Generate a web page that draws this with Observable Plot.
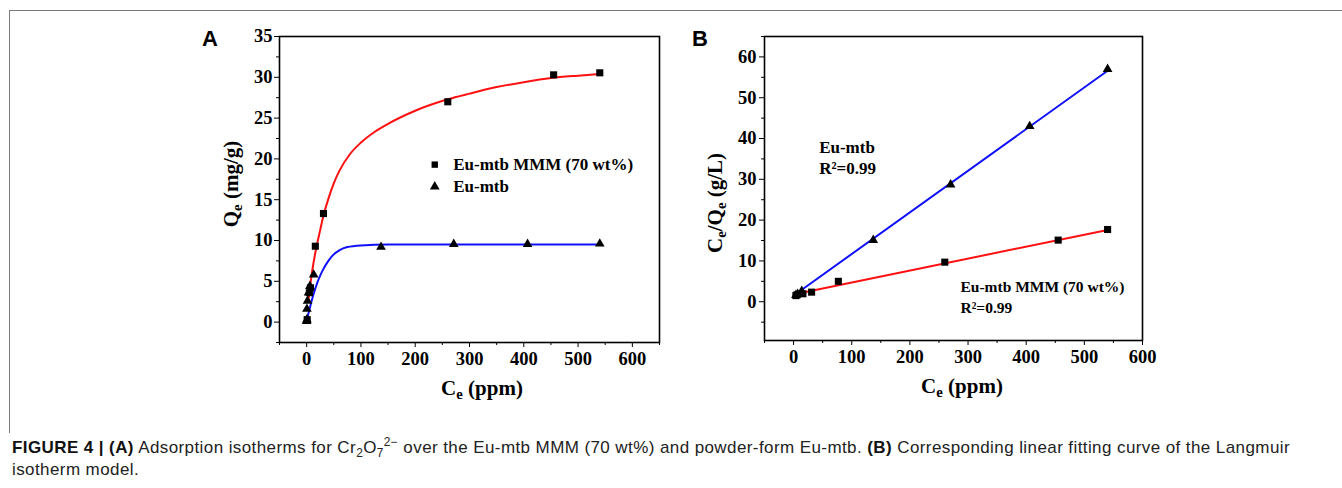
<!DOCTYPE html>
<html><head><meta charset="utf-8">
<script src="https://cdn.jsdelivr.net/npm/d3@7"></script>
<script src="https://cdn.jsdelivr.net/npm/@observablehq/plot@0.6"></script>
<style>
html,body{margin:0;padding:0;background:#fff;}
#fig{position:relative;width:1342px;height:488px;overflow:hidden;background:#fff;}
#border{position:absolute;left:9px;top:10px;width:1340px;height:422px;border-left:1px solid #7a7a7a;border-top:1px solid #7a7a7a;}
#panelA{position:absolute;left:200px;top:0;}
#panelB{position:absolute;left:690px;top:0;}
#caption{position:absolute;left:12px;top:437px;white-space:nowrap;font-family:"Liberation Sans",Arial,sans-serif;font-size:17px;line-height:22px;color:#222;}
#caption b{color:#111;}
#caption sub,#caption sup{font-size:0.7em;line-height:0;}
#line1{display:inline-block;}
</style>
</head><body>
<div id="fig">
  <div id="border"></div>
  <div id="panelA"></div>
  <div id="panelB"></div>
  <div id="caption"><span id="line1"><b>FIGURE 4 | (A)</b> Adsorption isotherms for Cr<sub>2</sub>O<sub>7</sub><sup>2−</sup> over the Eu-mtb MMM (70 wt%) and powder-form Eu-mtb. <b>(B)</b> Corresponding linear fitting curve of the Langmuir</span><br>isotherm model.</div>
</div>
<script>
// ---------- Data ----------
const seriesNames = ["Eu-mtb MMM (70 wt%)", "Eu-mtb"];

// Panel A: adsorption isotherms
const mmmCeA = [1, 5, 7, 16, 31, 260, 455, 540];
const mmmQeA = [0.3, 3.6, 4.2, 9.3, 13.3, 27.0, 30.3, 30.55];
const powderCeA = [0, 0.5, 0.5, 1.7, 3.5, 6, 13, 137, 271, 407, 540];
const powderQeA = [0.1, 0.3, 1.6, 2.6, 3.6, 4.4, 5.8, 9.2, 9.55, 9.55, 9.6];
// fitted curves
const mmmFitCeA = [4, 8, 12, 16, 20, 25, 30, 40, 50, 60, 80, 100, 125, 150, 200, 260, 300, 350, 400, 450, 500, 540];
const mmmFitQeA = [3.0, 5.2, 7.0, 8.5, 9.8, 11.3, 12.8, 15.1, 17.0, 18.5, 20.6, 22.0, 23.3, 24.3, 25.9, 27.3, 28.0, 28.8, 29.4, 29.9, 30.2, 30.4];
const powderFitCeA = [0, 5, 10, 15, 20, 25, 30, 40, 50, 60, 75, 100, 150, 200, 300, 400, 540];
const powderFitQeA = [0.2, 1.5, 2.8, 3.9, 4.9, 5.7, 6.4, 7.5, 8.3, 8.8, 9.2, 9.4, 9.5, 9.5, 9.5, 9.5, 9.5];

// Panel B: linear Langmuir fits
const mmmCeB = [4, 6, 16, 31, 77, 260, 455, 540];
const mmmRatioB = [1.5, 1.7, 1.95, 2.35, 5.0, 9.7, 15.1, 17.7];
const powderCeB = [4, 7, 14, 137, 270, 406, 540];
const powderRatioB = [1.6, 1.9, 2.6, 15.1, 28.7, 43.0, 57.0];
const mmmFitCeB = [4, 540];
const mmmFitB = [1.9, 17.6];
const powderFitCeB = [4, 540];
const powderFitB = [1.9, 56.6];
const r2Label = "R²=0.99";

// ticks
const xMajor = [0, 100, 200, 300, 400, 500, 600];
const xMinorA = [-50, 50, 150, 250, 350, 450, 550, 650];
const xMinorB = [-50, 50, 150, 250, 350, 450, 550];
const yMajorA = [0, 5, 10, 15, 20, 25, 30, 35];
const yMinorA = [-2.5, 2.5, 7.5, 12.5, 17.5, 22.5, 27.5, 32.5];
const yMajorB = [0, 10, 20, 30, 40, 50, 60];
const yMinorB = [-5, 5, 15, 25, 35, 45, 55, 65];

// ---------- helpers ----------
const SERIF = "'Liberation Serif','Times New Roman',serif";
const zip = (xs, ys) => xs.map((x, i) => ({x, y: ys[i]}));
const RED = "#ff1010", BLUE = "#1010ff";
const TICK_FONT = 18.5;

function axes(xMinor, yMajor, yMinor, yPad) {
  return [
    Plot.axisX(xMinor, {tickSize: 3, tickFormat: () => "", label: null}),
    Plot.axisX(xMajor, {tickSize: 5, tickPadding: 4, label: null, tickFormat: d => String(d), fontSize: TICK_FONT, fontWeight: "bold", fontFamily: SERIF}),
    Plot.axisY(yMinor, {tickSize: 3, tickFormat: () => "", label: null}),
    Plot.axisY(yMajor, {tickSize: 5, tickPadding: yPad, label: null, tickFormat: d => String(d), fontSize: TICK_FONT, fontWeight: "bold", fontFamily: SERIF}),
    Plot.frame({stroke: "black", strokeWidth: 1.6})
  ];
}

function addLabel(svg, x, y, parts, rotate, size) {
  const t = d3.select(svg).append("text")
    .attr("transform", `translate(${x},${y})` + (rotate ? " rotate(-90)" : ""))
    .attr("text-anchor", "middle").attr("fill", "black")
    .style("font-family", SERIF).style("font-weight", "bold").style("font-size", size + "px");
  let shifted = false;
  parts.forEach(([s, sub]) => {
    const ts = t.append("tspan").text(s);
    if (sub && !shifted) { ts.attr("dy", 4).style("font-size", (size * 0.7) + "px"); shifted = true; }
    else if (!sub && shifted) { ts.attr("dy", -4); shifted = false; }
  });
}
function addLetter(svg, letter) {
  d3.select(svg).append("text").attr("x", 10).attr("y", 46).attr("fill", "black")
    .style("font-family", "'Liberation Sans',Arial,sans-serif").style("font-weight", "bold")
    .style("font-size", "22px").text(letter);
}

const style = {fontFamily: SERIF, fontWeight: "bold", fontSize: "17px", color: "black", background: "transparent", overflow: "visible"};

// ---------- Panel A ----------
const plotA = Plot.plot({
  width: 480, height: 410,
  marginLeft: 79, marginRight: 21, marginTop: 36, marginBottom: 68,
  x: {domain: [-50, 650]}, y: {domain: [-2.5, 35]},
  style,
  marks: [
    ...axes(xMinorA, yMajorA, yMinorA, 2),
    Plot.line(zip(mmmFitCeA, mmmFitQeA), {x: "x", y: "y", stroke: RED, strokeWidth: 2, curve: "monotone-x"}),
    Plot.line(zip(powderFitCeA, powderFitQeA), {x: "x", y: "y", stroke: BLUE, strokeWidth: 2, curve: "monotone-x"}),
    Plot.dot(zip(mmmCeA, mmmQeA), {x: "x", y: "y", symbol: "square", fill: "black", r: 4}),
    Plot.dot(zip(powderCeA, powderQeA), {x: "x", y: "y", symbol: "triangle", fill: "black", r: 3.6}),
    // legend
    Plot.dot(seriesNames, {x: () => 236, y: (d, i) => [19.3, 16.6][i], symbol: (d, i) => ["square", "triangle"][i], fill: "black", r: 3.6}),
    Plot.text(seriesNames, {x: () => 270, y: (d, i) => [19.3, 16.6][i], text: d => d, textAnchor: "start", fontSize: 17, fill: "black"})
  ]
});
addLabel(plotA, 282, 395, [["C"], ["e", true], [" (ppm)"]], false, 21);
addLabel(plotA, 38, 184, [["Q"], ["e", true], [" (mg/g)"]], true, 21);
addLetter(plotA, "A");
document.getElementById("panelA").appendChild(plotA);

// ---------- Panel B ----------
const plotB = Plot.plot({
  width: 480, height: 410,
  marginLeft: 74, marginRight: 28, marginTop: 36, marginBottom: 70,
  x: {domain: [-50, 600]}, y: {domain: [-9.5, 65]},
  style,
  marks: [
    ...axes(xMinorB, yMajorB, yMinorB, 3),
    Plot.line(zip(powderFitCeB, powderFitB), {x: "x", y: "y", stroke: BLUE, strokeWidth: 2}),
    Plot.line(zip(mmmFitCeB, mmmFitB), {x: "x", y: "y", stroke: RED, strokeWidth: 2}),
    Plot.dot(zip(mmmCeB, mmmRatioB), {x: "x", y: "y", symbol: "square", fill: "black", r: 4}),
    Plot.dot(zip(powderCeB, powderRatioB), {x: "x", y: "y", symbol: "triangle", fill: "black", r: 3.6}),
    Plot.text([seriesNames[1], r2Label], {x: () => 44, y: (d, i) => [36.5, 31.3][i], text: d => d, textAnchor: "start", lineAnchor: "bottom", fontSize: 17, fill: "black"}),
    Plot.text([seriesNames[0], r2Label], {x: () => 287, y: (d, i) => [2.5, -2.8][i], text: d => d, textAnchor: "start", lineAnchor: "bottom", fontSize: 15.5, fill: "black"})
  ]
});
addLabel(plotB, 272, 393, [["C"], ["e", true], [" (ppm)"]], false, 21);
addLabel(plotB, 32, 203, [["C"], ["e", true], ["/Q"], ["e", true], [" (g/L)"]], true, 21);
addLetter(plotB, "B");
document.getElementById("panelB").appendChild(plotB);

// stretch caption line 1 to the reference width
const line1 = document.getElementById("line1");
const target = 1278, w = line1.getBoundingClientRect().width;
const chars = line1.textContent.length;
document.getElementById("caption").style.letterSpacing = ((target - w) / chars).toFixed(3) + "px";
</script>
</body></html>
